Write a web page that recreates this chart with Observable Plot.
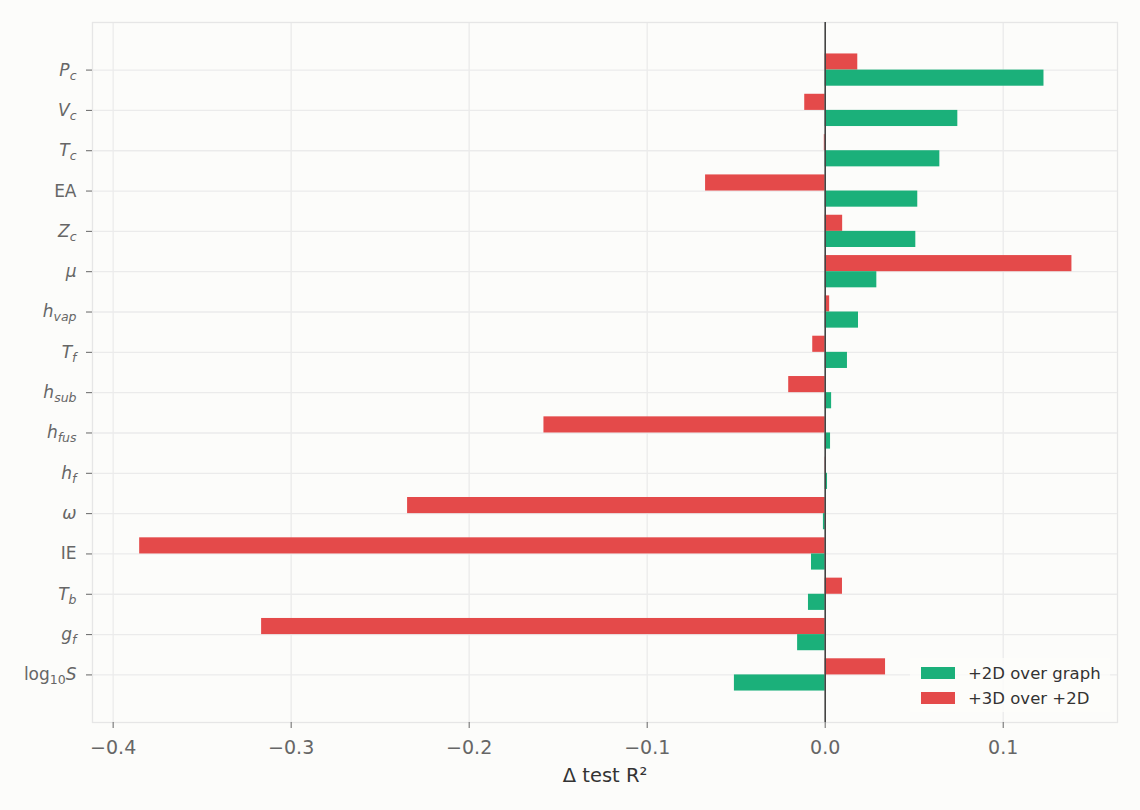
<!DOCTYPE html>
<html>
<head>
<meta charset="utf-8">
<script src="https://cdn.jsdelivr.net/npm/d3@7"></script>
<script src="https://cdn.jsdelivr.net/npm/@observablehq/plot@0.6"></script>
<style>
  html, body { margin: 0; padding: 0; background: #fcfcfa; }
  #wrap { position: relative; width: 1140px; height: 810px; font-family: "DejaVu Sans", sans-serif; }
  #legend { position: absolute; left: 910px; top: 658px; width: 200px; height: 54px; background: rgba(252,252,250,0.8); }
  .lrow { position: absolute; left: 11px; height: 24px; display: flex; align-items: center; font-size: 16.5px; color: #333; white-space: nowrap; }
  .sw { width: 34px; height: 12px; margin-right: 13px; }
</style>
</head>
<body>
<div id="wrap"></div>
<script>
// ---- data ----
const categories = ["P_c", "V_c", "T_c", "EA", "Z_c", "mu", "h_vap", "T_f", "h_sub", "h_fus", "h_f", "omega", "IE", "T_b", "g_f", "log10_S"];
const series = ["+2D over graph", "+3D over +2D"];
const over2D = [0.1229, 0.0745, 0.0644, 0.0520, 0.0509, 0.0290, 0.0187, 0.0125, 0.0036, 0.0030, 0.0013, -0.0010, -0.0077, -0.0094, -0.0155, -0.0510];
const over3D = [0.0183, -0.0115, -0.0005, -0.0672, 0.0098, 0.1386, 0.0025, -0.0070, -0.0205, -0.1580, 0.0003, -0.2346, -0.3851, 0.0097, -0.3166, 0.0339];
const xTicks = [-0.4, -0.3, -0.2, -0.1, 0.0, 0.1];
const seriesColors = ["#1bb07a", "#e44a4a"];
// tick label pieces: r = roman, i = italic, sr/si = subscript roman/italic
const tickLabels = {
  P_c: [["P", "i"], ["c", "si"]],
  V_c: [["V", "i"], ["c", "si"]],
  T_c: [["T", "i"], ["c", "si"]],
  EA: [["EA", "r"]],
  Z_c: [["Z", "i"], ["c", "si"]],
  mu: [["μ", "i"]],
  h_vap: [["h", "i"], ["vap", "si"]],
  T_f: [["T", "i"], ["f", "si"]],
  h_sub: [["h", "i"], ["sub", "si"]],
  h_fus: [["h", "i"], ["fus", "si"]],
  h_f: [["h", "i"], ["f", "si"]],
  omega: [["ω", "i"]],
  IE: [["IE", "r"]],
  T_b: [["T", "i"], ["b", "si"]],
  g_f: [["g", "i"], ["f", "si"]],
  log10_S: [["log", "r"], ["10", "sr"], ["S", "i"]]
};

const rows = categories.flatMap((c, i) => [
  {category: c, series: series[0], value: over2D[i]},
  {category: c, series: series[1], value: over3D[i]}
]);

// ---- layout ----
const W = 1140, H = 810, mt = 22, mb = 88, ml = 92, mr = 23;
const po = 0.68;
const step = (H - mt - mb) / (categories.length + 2 * po);
const gap = step * 0.1;
const half = step / 2;

const chart = Plot.plot({
  width: W, height: H,
  marginTop: mt, marginBottom: mb, marginLeft: ml, marginRight: mr,
  style: {background: "#fcfcfa", fontFamily: "DejaVu Sans, sans-serif"},
  x: {domain: [-0.4116, 0.1642]},
  y: {domain: categories, paddingInner: 0, paddingOuter: po, round: false},
  color: {domain: series, range: seriesColors},
  marks: [
    Plot.gridX(xTicks, {stroke: "#ebebeb", strokeOpacity: 1, strokeWidth: 1.3}),
    Plot.gridY({stroke: "#ebebeb", strokeOpacity: 1, strokeWidth: 1.3}),
    Plot.frame({stroke: "#e6e6e6", strokeWidth: 1.3}),
    Plot.barX(rows.filter(d => d.series === series[1]), {x: "value", y: "category", fill: "series", insetTop: gap, insetBottom: half}),
    Plot.barX(rows.filter(d => d.series === series[0]), {x: "value", y: "category", fill: "series", insetTop: half, insetBottom: gap}),
    Plot.ruleX([0], {stroke: "#444", strokeWidth: 1.6}),
    Plot.axisX(xTicks, {tickSize: 6, tickPadding: 12, tickFormat: d3.format(".1f"), fontSize: 19, color: "#666",
      label: "Δ test R²", labelAnchor: "center", labelOffset: 59, labelArrow: "none"}),
    Plot.axisY({tickSize: 6, tickPadding: 10, fontSize: 17, color: "#666", label: null})
  ]
});

// math-style tick labels
const ns = "http://www.w3.org/2000/svg";
chart.querySelectorAll('[aria-label="y-axis tick label"] text').forEach(t => {
  const parts = tickLabels[t.textContent];
  if (!parts) return;
  t.textContent = "";
  let shift = 0;
  for (const [s, st] of parts) {
    const ts = document.createElementNS(ns, "tspan");
    ts.textContent = s;
    if (st.endsWith("i")) ts.setAttribute("font-style", "italic");
    const sub = st.startsWith("s");
    const target = sub ? 4 : 0;
    if (target !== shift) { ts.setAttribute("dy", target - shift); shift = target; }
    if (sub) ts.setAttribute("font-size", "12.5");
    t.appendChild(ts);
  }
});
const lab = chart.querySelector('[aria-label="x-axis label"]');
if (lab) {
  lab.setAttribute("fill", "#333");
  lab.setAttribute("font-size", "19.5");
  lab.querySelectorAll("text").forEach(e => {
    e.setAttribute("fill", "#333");
    e.textContent = e.textContent.replace(/\s*[→←]\s*/g, "");
  });
}

const wrap = document.getElementById("wrap");
wrap.appendChild(chart);

// legend
const legend = document.createElement("div");
legend.id = "legend";
series.forEach((s, i) => {
  const r = document.createElement("div");
  r.className = "lrow";
  r.style.top = (3 + i * 25) + "px";
  const sw = document.createElement("span");
  sw.className = "sw";
  sw.style.background = seriesColors[i];
  const tx = document.createElement("span");
  tx.textContent = s;
  r.appendChild(sw); r.appendChild(tx);
  legend.appendChild(r);
});
wrap.appendChild(legend);
</script>
</body>
</html>
